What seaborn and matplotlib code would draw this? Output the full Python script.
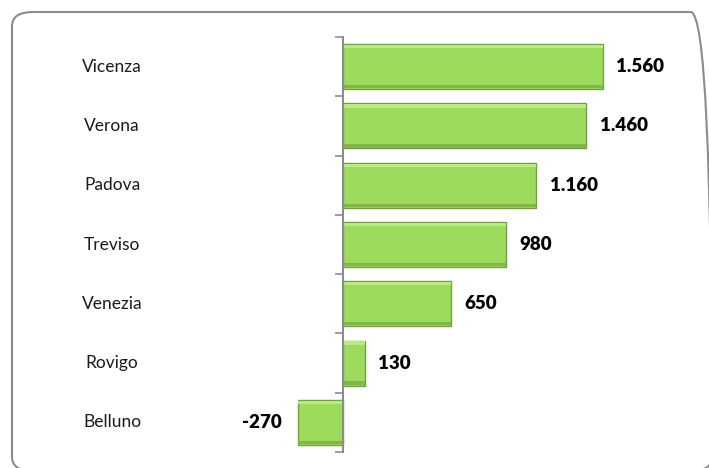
import numpy as np
import pandas as pd
import seaborn as sns
import matplotlib.pyplot as plt
from matplotlib.patches import FancyBboxPatch
from matplotlib.transforms import blended_transform_factory

# Dati
province = ["Vicenza", "Verona", "Padova", "Treviso", "Venezia", "Rovigo", "Belluno"]
valori = [1560, 1460, 1160, 980, 650, 130, -270]
etichette = ["1.560", "1.460", "1.160", "980", "650", "130", "-270"]

df = pd.DataFrame({"provincia": province, "valore": valori})

sns.set_style("white")
plt.rcParams["font.family"] = ["Lato", "DejaVu Sans"]

fig = plt.figure(figsize=(7.09, 4.68), dpi=100)
# bordo arrotondato (esce un po' a destra e in basso)
bordo = FancyBboxPatch((12 / 709, -3 / 468), 700 / 709, 459 / 468,
                       boxstyle="round,pad=0,rounding_size=0.03",
                       transform=fig.transFigure, facecolor="none",
                       edgecolor="#8c8c8c", linewidth=1.5, zorder=-1)
fig.patches.append(bordo)

# asse: zero a x=343 px, 0.1667 px per unita
x0 = -800
x1 = 2000
px = 0.16667
left = (343 + x0 * px) / 709
width = (x1 - x0) * px / 709
ax = fig.add_axes([left, 1 - 452 / 468, width, 415 / 468])
ax.patch.set_alpha(0)

sns.barplot(data=df, x="valore", y="provincia", orient="h", ax=ax,
            color="#9ddb5c", edgecolor="#74a040", linewidth=1.0,
            width=0.76, saturation=1)

# effetto rilievo: striscia chiara sopra, scura sotto
for bar in list(ax.patches):
    x, y = bar.get_x(), bar.get_y()
    w, h = bar.get_width(), bar.get_height()
    z = bar.get_zorder() + 0.1
    ax.fill_between([x, x + w], y + 0.015, y + 0.07,
                    color="#b9ea85", linewidth=0, zorder=z)
    ax.fill_between([x, x + w], y + h - 0.07, y + h - 0.015,
                    color="#84b54b", linewidth=0, zorder=z)

ax.set_xlim(x0, x1)
ax.set_ylim(6.5, -0.5)
ax.set_xlabel("")
ax.set_ylabel("")
ax.set_xticks([])
ax.set_yticks(np.arange(-0.5, 7, 1))
ax.set_yticklabels([])
ax.tick_params(axis="y", direction="out", length=6, width=1.2, color="#8c8c8c", left=True)
for s in ["top", "right", "bottom"]:
    ax.spines[s].set_visible(False)
ax.spines["left"].set_position(("data", 0))
ax.spines["left"].set_color("#8c8c8c")
ax.spines["left"].set_linewidth(1.5)
ax.spines["left"].set_zorder(5)

# nomi province
trans = blended_transform_factory(fig.transFigure, ax.transData)
for i, nome in enumerate(province):
    ax.text(112 / 709, i, nome, transform=trans, ha="center", va="center",
            fontsize=12.5, color="#1a1a1a")

# etichette valori
for i, (v, t) in enumerate(zip(valori, etichette)):
    if v >= 0:
        ax.text(v + 80, i, t, ha="left", va="center", fontsize=13.5,
                fontweight="heavy", color="black")
    else:
        ax.text(v - 95, i, t, ha="right", va="center", fontsize=13.5,
                fontweight="heavy", color="black")

fig.savefig("out.png", dpi=100)
